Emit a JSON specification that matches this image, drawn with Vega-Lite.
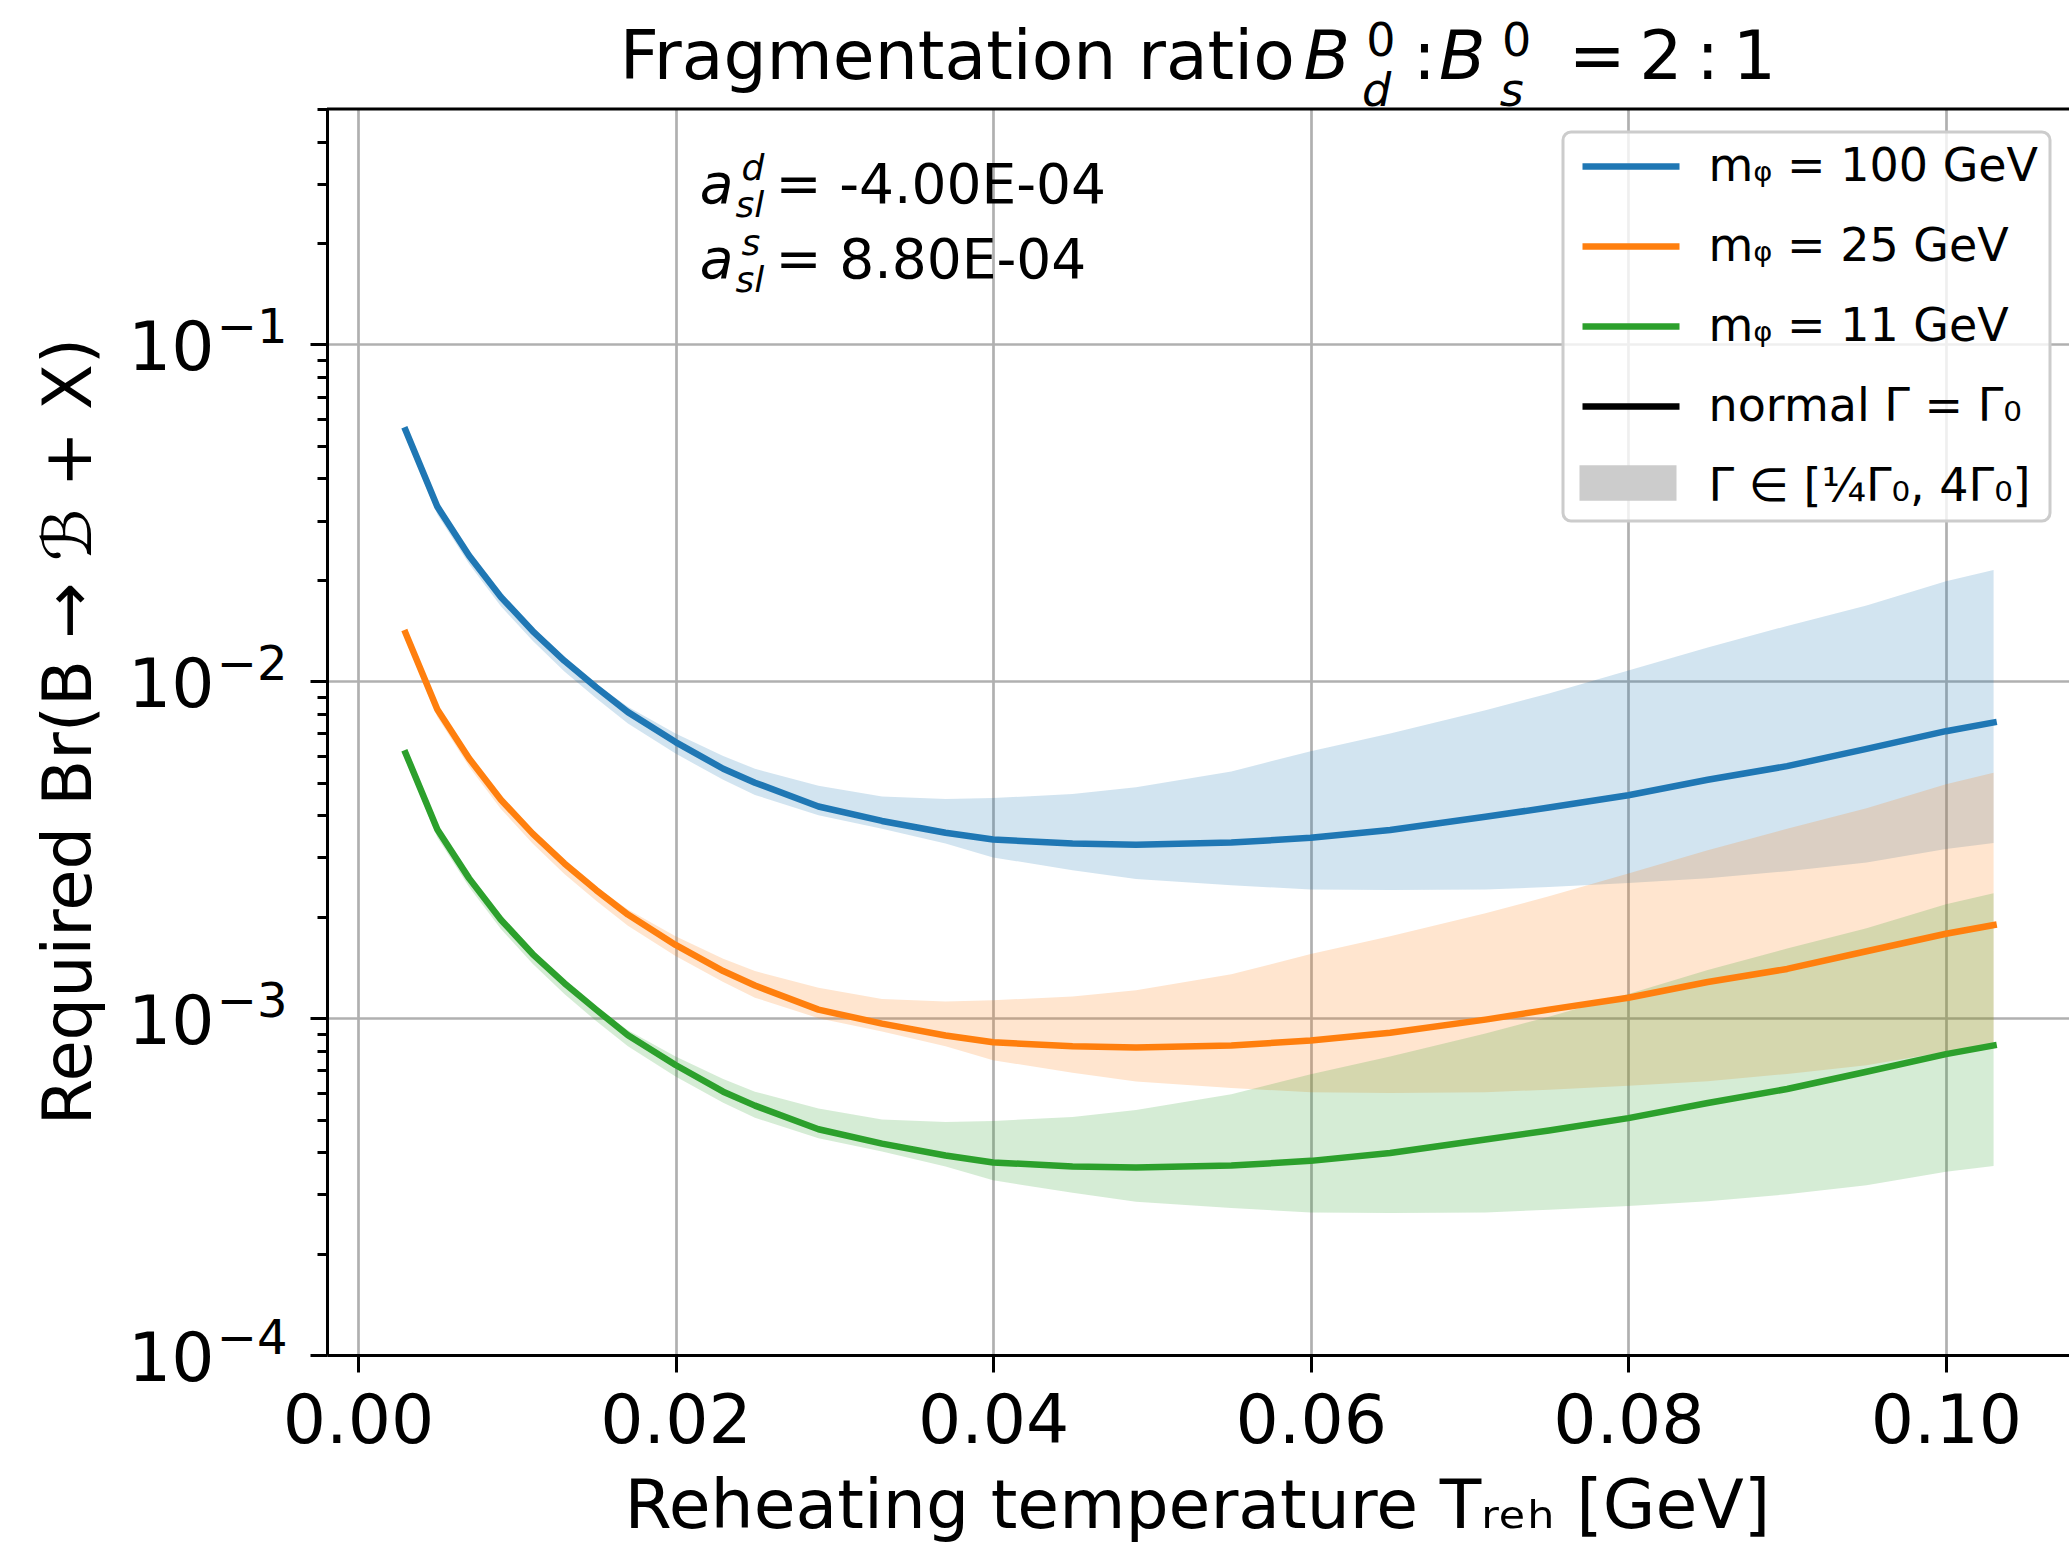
{
  "$schema": "https://vega.github.io/schema/vega-lite/v6.json",
  "autosize": {"type": "none"},
  "width": 1742,
  "height": 1246,
  "padding": {"left": 327, "top": 109, "right": 0, "bottom": 190},
  "background": "white",
  "config": {
    "view": {"stroke": null},
    "font": "DejaVu Sans",
    "text": {"font": "DejaVu Sans", "color": "black"},
    "legend": {"strokeWidth": 3}
  },
  "data": {"values": [
    {"T":0.003,"s":"m100","br":0.0556,"lo":0.0530,"hi":0.0556},
    {"T":0.005,"s":"m100","br":0.0330,"lo":0.0313,"hi":0.0331},
    {"T":0.007,"s":"m100","br":0.0236,"lo":0.0223,"hi":0.0237},
    {"T":0.009,"s":"m100","br":0.0178,"lo":0.0167,"hi":0.0179},
    {"T":0.011,"s":"m100","br":0.0141,"lo":0.0132,"hi":0.0142},
    {"T":0.013,"s":"m100","br":0.0115,"lo":0.0107,"hi":0.0117},
    {"T":0.015,"s":"m100","br":0.0096,"lo":0.0089,"hi":0.0098},
    {"T":0.017,"s":"m100","br":0.0081,"lo":0.0075,"hi":0.0084},
    {"T":0.020,"s":"m100","br":0.0066,"lo":0.0061,"hi":0.0070},
    {"T":0.023,"s":"m100","br":0.0055,"lo":0.0051,"hi":0.0060},
    {"T":0.025,"s":"m100","br":0.0050,"lo":0.0046,"hi":0.0055},
    {"T":0.029,"s":"m100","br":0.00425,"lo":0.0040,"hi":0.0049},
    {"T":0.033,"s":"m100","br":0.00385,"lo":0.00365,"hi":0.00455},
    {"T":0.037,"s":"m100","br":0.00355,"lo":0.0033,"hi":0.00447},
    {"T":0.040,"s":"m100","br":0.00339,"lo":0.0030,"hi":0.0045},
    {"T":0.045,"s":"m100","br":0.00330,"lo":0.00275,"hi":0.00463},
    {"T":0.049,"s":"m100","br":0.00327,"lo":0.00259,"hi":0.00485},
    {"T":0.055,"s":"m100","br":0.00332,"lo":0.00248,"hi":0.0054},
    {"T":0.060,"s":"m100","br":0.00343,"lo":0.00241,"hi":0.0062},
    {"T":0.065,"s":"m100","br":0.00362,"lo":0.00240,"hi":0.0070},
    {"T":0.071,"s":"m100","br":0.00396,"lo":0.00241,"hi":0.0082},
    {"T":0.075,"s":"m100","br":0.00422,"lo":0.00245,"hi":0.0092},
    {"T":0.080,"s":"m100","br":0.00459,"lo":0.00252,"hi":0.01077},
    {"T":0.085,"s":"m100","br":0.0051,"lo":0.0026,"hi":0.0126},
    {"T":0.090,"s":"m100","br":0.0056,"lo":0.00273,"hi":0.0146},
    {"T":0.095,"s":"m100","br":0.0063,"lo":0.0029,"hi":0.0168},
    {"T":0.100,"s":"m100","br":0.00711,"lo":0.00318,"hi":0.0198},
    {"T":0.103,"s":"m100","br":0.00755,"lo":0.00331,"hi":0.0214},
    {"T":0.003,"s":"m25","br":0.0139,"lo":0.01325,"hi":0.0139},
    {"T":0.005,"s":"m25","br":0.00825,"lo":0.00783,"hi":0.00828},
    {"T":0.007,"s":"m25","br":0.0059,"lo":0.00558,"hi":0.00593},
    {"T":0.009,"s":"m25","br":0.00445,"lo":0.00418,"hi":0.00448},
    {"T":0.011,"s":"m25","br":0.00353,"lo":0.0033,"hi":0.00355},
    {"T":0.013,"s":"m25","br":0.00288,"lo":0.00268,"hi":0.00293},
    {"T":0.015,"s":"m25","br":0.0024,"lo":0.00223,"hi":0.00245},
    {"T":0.017,"s":"m25","br":0.00203,"lo":0.00188,"hi":0.0021},
    {"T":0.020,"s":"m25","br":0.00165,"lo":0.00153,"hi":0.00175},
    {"T":0.023,"s":"m25","br":0.00138,"lo":0.00128,"hi":0.0015},
    {"T":0.025,"s":"m25","br":0.00125,"lo":0.00115,"hi":0.00138},
    {"T":0.029,"s":"m25","br":0.00106,"lo":0.0010,"hi":0.00123},
    {"T":0.033,"s":"m25","br":0.000963,"lo":0.000913,"hi":0.00114},
    {"T":0.037,"s":"m25","br":0.000888,"lo":0.000825,"hi":0.00112},
    {"T":0.040,"s":"m25","br":0.000848,"lo":0.00075,"hi":0.00113},
    {"T":0.045,"s":"m25","br":0.000825,"lo":0.000688,"hi":0.00116},
    {"T":0.049,"s":"m25","br":0.000818,"lo":0.000648,"hi":0.00121},
    {"T":0.055,"s":"m25","br":0.00083,"lo":0.00062,"hi":0.00135},
    {"T":0.060,"s":"m25","br":0.000858,"lo":0.000603,"hi":0.00155},
    {"T":0.065,"s":"m25","br":0.000905,"lo":0.0006,"hi":0.00175},
    {"T":0.071,"s":"m25","br":0.00099,"lo":0.000603,"hi":0.00205},
    {"T":0.075,"s":"m25","br":0.00106,"lo":0.000613,"hi":0.0023},
    {"T":0.080,"s":"m25","br":0.00115,"lo":0.00063,"hi":0.00269},
    {"T":0.085,"s":"m25","br":0.00128,"lo":0.00065,"hi":0.00315},
    {"T":0.090,"s":"m25","br":0.0014,"lo":0.000683,"hi":0.00365},
    {"T":0.095,"s":"m25","br":0.00158,"lo":0.000725,"hi":0.0042},
    {"T":0.100,"s":"m25","br":0.00178,"lo":0.000795,"hi":0.00495},
    {"T":0.103,"s":"m25","br":0.00189,"lo":0.000828,"hi":0.00535},
    {"T":0.003,"s":"m11","br":0.00612,"lo":0.00583,"hi":0.00612},
    {"T":0.005,"s":"m11","br":0.00363,"lo":0.00344,"hi":0.00364},
    {"T":0.007,"s":"m11","br":0.0026,"lo":0.00245,"hi":0.00261},
    {"T":0.009,"s":"m11","br":0.00196,"lo":0.00184,"hi":0.00197},
    {"T":0.011,"s":"m11","br":0.00155,"lo":0.00145,"hi":0.00156},
    {"T":0.013,"s":"m11","br":0.00127,"lo":0.00118,"hi":0.00129},
    {"T":0.015,"s":"m11","br":0.00106,"lo":0.00098,"hi":0.00108},
    {"T":0.017,"s":"m11","br":0.00089,"lo":0.000825,"hi":0.00092},
    {"T":0.020,"s":"m11","br":0.000726,"lo":0.000671,"hi":0.00077},
    {"T":0.023,"s":"m11","br":0.000605,"lo":0.000561,"hi":0.00066},
    {"T":0.025,"s":"m11","br":0.00055,"lo":0.000506,"hi":0.000605},
    {"T":0.029,"s":"m11","br":0.000468,"lo":0.00044,"hi":0.000539},
    {"T":0.033,"s":"m11","br":0.000424,"lo":0.000402,"hi":0.0005},
    {"T":0.037,"s":"m11","br":0.000391,"lo":0.000363,"hi":0.000492},
    {"T":0.040,"s":"m11","br":0.000373,"lo":0.00033,"hi":0.000495},
    {"T":0.045,"s":"m11","br":0.000363,"lo":0.000303,"hi":0.000509},
    {"T":0.049,"s":"m11","br":0.00036,"lo":0.000285,"hi":0.000534},
    {"T":0.055,"s":"m11","br":0.000365,"lo":0.000273,"hi":0.000594},
    {"T":0.060,"s":"m11","br":0.000377,"lo":0.000265,"hi":0.000682},
    {"T":0.065,"s":"m11","br":0.000398,"lo":0.000264,"hi":0.00077},
    {"T":0.071,"s":"m11","br":0.000436,"lo":0.000265,"hi":0.0009},
    {"T":0.075,"s":"m11","br":0.000464,"lo":0.00027,"hi":0.00101},
    {"T":0.080,"s":"m11","br":0.000505,"lo":0.000277,"hi":0.00118},
    {"T":0.085,"s":"m11","br":0.00056,"lo":0.000286,"hi":0.00139},
    {"T":0.090,"s":"m11","br":0.000616,"lo":0.0003,"hi":0.00161},
    {"T":0.095,"s":"m11","br":0.000693,"lo":0.000319,"hi":0.00185},
    {"T":0.100,"s":"m11","br":0.000782,"lo":0.00035,"hi":0.00218},
    {"T":0.103,"s":"m11","br":0.00083,"lo":0.000364,"hi":0.00235}
  ]},
  "resolve": {"axis": {"x": "independent", "y": "independent"}},
  "layer": [
    {
      "mark": {"type": "area", "interpolate": "linear", "fillOpacity": 0.2},
      "encoding": {
        "x": {"field": "T", "type": "quantitative",
          "scale": {"domain": [-0.00195, 0.10775], "nice": false, "zero": false},
          "axis": {
            "orient": "bottom",
            "values": [0, 0.02, 0.04, 0.06, 0.08, 0.1], "format": ".2f",
            "labelFont": "DejaVu Sans", "labelFontSize": 68, "labelColor": "black",
            "labelBaseline": "alphabetic", "labelPadding": 70, "labelFlush": false, "labelOverlap": false,
            "tickSize": 17, "tickWidth": 3, "tickColor": "black",
            "domainColor": "black", "domainWidth": 3,
            "grid": true, "gridColor": "#b0b0b0", "gridWidth": 2.7,
            "title": "Reheating temperature Tᵣₑₕ [GeV]", "titleFont": "DejaVu Sans", "titleFontSize": 68,
            "titleFontWeight": "normal", "titleColor": "black",
            "titleX": 870, "titleY": 172, "titleAlign": "center", "titleBaseline": "alphabetic"
          }},
        "y": {"field": "lo", "type": "quantitative",
          "scale": {"type": "log", "domain": [0.0001, 0.5], "nice": false, "zero": false},
          "axis": {
            "orient": "left",
            "values": [0.0001,0.0002,0.0003,0.0004,0.0005,0.0006,0.0007,0.0008,0.0009,0.001,0.002,0.003,0.004,0.005,0.006,0.007,0.008,0.009,0.01,0.02,0.03,0.04,0.05,0.06,0.07,0.08,0.09,0.1,0.2,0.3,0.4,0.5],
            "labelExpr": "abs(log(datum.value)/LN10 - round(log(datum.value)/LN10)) < 0.001 ? '10' : ''",
            "labelFont": "DejaVu Sans", "labelFontSize": 68, "labelColor": "black",
            "labelBaseline": "alphabetic", "labelOffset": 25, "labelPadding": 96, "labelFlush": false, "labelOverlap": false,
            "tickSize": {"condition": {"test": "abs(log(datum.value)/LN10 - round(log(datum.value)/LN10)) < 0.001", "value": 17}, "value": 10},
            "tickWidth": 3, "tickColor": "black",
            "domainColor": "black", "domainWidth": 3,
            "grid": true, "gridColor": "#b0b0b0", "gridWidth": 2.7,
            "gridOpacity": {"condition": {"test": "abs(log(datum.value)/LN10 - round(log(datum.value)/LN10)) < 0.001", "value": 1}, "value": 0},
            "title": "Required Br(B → ℬ + X)", "titleFont": "DejaVu Sans", "titleFontSize": 67,
            "titleFontWeight": "normal", "titleColor": "black",
            "titleX": -237, "titleY": 622, "titleAngle": 270, "titleAlign": "center", "titleBaseline": "alphabetic"
          }},
        "y2": {"field": "hi"},
        "fill": {"field": "s", "type": "nominal",
          "scale": {"domain": ["m100", "m25", "m11"], "range": ["#1f77b4", "#ff7f0e", "#2ca02c"]},
          "legend": null},
        "opacity": {"datum": "band", "type": "nominal",
          "scale": {"domain": ["band"], "range": [0.2]},
          "legend": {
            "title": null, "orient": "none", "legendX": 1281, "legendY": 354,
            "symbolType": "M-2.425,-0.89H2.425V0.89H-2.425Z", "symbolSize": 1600,
            "symbolFillColor": "#000000", "symbolStrokeColor": "transparent", "symbolStrokeWidth": 0,
            "labelExpr": "''", "labelFontSize": 1, "padding": 0, "strokeColor": "transparent"
          }}
      }
    },
    {
      "mark": {"type": "line", "strokeWidth": 6.5, "strokeCap": "square", "strokeJoin": "round", "interpolate": "linear"},
      "encoding": {
        "x": {"field": "T", "type": "quantitative", "axis": null},
        "y": {"field": "br", "type": "quantitative",
          "scale": {"type": "log", "domain": [0.0001, 0.5], "nice": false, "zero": false},
          "axis": {
            "orient": "left",
            "values": [0.0001, 0.001, 0.01, 0.1],
            "labelExpr": "'−' + format(-round(log(datum.value)/LN10), 'd')",
            "labelFont": "DejaVu Sans", "labelFontSize": 48, "labelColor": "black",
            "labelBaseline": "alphabetic", "labelOffset": -2, "labelPadding": 40,
            "labelFlush": false, "labelOverlap": false,
            "ticks": false, "tickSize": 0, "domain": false, "grid": false, "title": null
          }},
        "color": {"field": "s", "type": "nominal",
          "scale": {"domain": ["m100", "m25", "m11", "normal", "band"], "range": ["#1f77b4", "#ff7f0e", "#2ca02c", "#000000", "rgba(0,0,0,0)"]},
          "legend": {
            "title": null,
            "orient": "none", "legendX": 1236, "legendY": 23,
            "direction": "vertical",
            "symbolType": "M-2.425,0H2.425", "symbolSize": 1600, "symbolStrokeWidth": 6.5,
            "symbolOffset": 33.5,
            "labelFont": "DejaVu Sans", "labelFontSize": 46, "labelColor": "black", "labelLimit": 800,
            "labelOffset": 54, "rowPadding": 33, "padding": 11,
            "strokeColor": "#cccccc", "cornerRadius": 8,
            "fillColor": "rgba(255,255,255,0.8)",
            "labelExpr": "datum.value == 'm100' ? 'mᵩ = 100 GeV ' : datum.value == 'm25' ? 'mᵩ = 25 GeV' : datum.value == 'm11' ? 'mᵩ = 11 GeV' : datum.value == 'normal' ? 'normal Γ = Γ₀' : 'Γ ∈ [¼Γ₀, 4Γ₀]'"
          }}
      }
    },
    {
      "data": {"values": [{}]},
      "mark": {"type": "rule", "color": "black", "strokeWidth": 3},
      "encoding": {"y": {"datum": 0.5, "type": "quantitative", "axis": null}}
    },
    {"data": {"values": [{}]}, "mark": {"type": "text", "text": "Fragmentation ratio", "fontSize": 68, "align": "left", "baseline": "alphabetic"},
      "encoding": {"x": {"datum": 0.01648, "type": "quantitative", "axis": null}, "y": {"datum": 0.6139, "type": "quantitative", "axis": null}}},
    {"data": {"values": [{}]}, "mark": {"type": "text", "text": "B", "fontSize": 68, "fontStyle": "italic", "align": "left", "baseline": "alphabetic"},
      "encoding": {"x": {"datum": 0.05955, "type": "quantitative", "axis": null}, "y": {"datum": 0.6139, "type": "quantitative", "axis": null}}},
    {"data": {"values": [{}]}, "mark": {"type": "text", "text": "0", "fontSize": 46, "align": "left", "baseline": "alphabetic", "dy": -23},
      "encoding": {"x": {"datum": 0.06349, "type": "quantitative", "axis": null}, "y": {"datum": 0.6139, "type": "quantitative", "axis": null}}},
    {"data": {"values": [{}]}, "mark": {"type": "text", "text": "d", "fontSize": 46, "fontStyle": "italic", "align": "left", "baseline": "alphabetic", "dy": 27},
      "encoding": {"x": {"datum": 0.06323, "type": "quantitative", "axis": null}, "y": {"datum": 0.6139, "type": "quantitative", "axis": null}}},
    {"data": {"values": [{}]}, "mark": {"type": "text", "text": ":", "fontSize": 68, "align": "left", "baseline": "alphabetic"},
      "encoding": {"x": {"datum": 0.06644, "type": "quantitative", "axis": null}, "y": {"datum": 0.6139, "type": "quantitative", "axis": null}}},
    {"data": {"values": [{}]}, "mark": {"type": "text", "text": "B", "fontSize": 68, "fontStyle": "italic", "align": "left", "baseline": "alphabetic"},
      "encoding": {"x": {"datum": 0.06808, "type": "quantitative", "axis": null}, "y": {"datum": 0.6139, "type": "quantitative", "axis": null}}},
    {"data": {"values": [{}]}, "mark": {"type": "text", "text": "0", "fontSize": 46, "align": "left", "baseline": "alphabetic", "dy": -23},
      "encoding": {"x": {"datum": 0.07204, "type": "quantitative", "axis": null}, "y": {"datum": 0.6139, "type": "quantitative", "axis": null}}},
    {"data": {"values": [{}]}, "mark": {"type": "text", "text": "s", "fontSize": 46, "fontStyle": "italic", "align": "left", "baseline": "alphabetic", "dy": 27},
      "encoding": {"x": {"datum": 0.07191, "type": "quantitative", "axis": null}, "y": {"datum": 0.6139, "type": "quantitative", "axis": null}}},
    {"data": {"values": [{}]}, "mark": {"type": "text", "text": "=\u20092\u2009:\u20091", "fontSize": 68, "align": "left", "baseline": "alphabetic"},
      "encoding": {"x": {"datum": 0.07625, "type": "quantitative", "axis": null}, "y": {"datum": 0.6139, "type": "quantitative", "axis": null}}},
    {"data": {"values": [{}]}, "mark": {"type": "text", "text": "a", "fontSize": 55, "fontStyle": "italic", "align": "left", "baseline": "alphabetic"},
      "encoding": {"x": {"datum": 0.02152, "type": "quantitative", "axis": null}, "y": {"datum": 0.263, "type": "quantitative", "axis": null}}},
    {"data": {"values": [{}]}, "mark": {"type": "text", "text": "d", "fontSize": 36, "fontStyle": "italic", "align": "left", "baseline": "alphabetic", "dy": -23},
      "encoding": {"x": {"datum": 0.02416, "type": "quantitative", "axis": null}, "y": {"datum": 0.263, "type": "quantitative", "axis": null}}},
    {"data": {"values": [{}]}, "mark": {"type": "text", "text": "sl", "fontSize": 36, "fontStyle": "italic", "align": "left", "baseline": "alphabetic", "dy": 14},
      "encoding": {"x": {"datum": 0.02378, "type": "quantitative", "axis": null}, "y": {"datum": 0.263, "type": "quantitative", "axis": null}}},
    {"data": {"values": [{}]}, "mark": {"type": "text", "text": "= -4.00E-04", "fontSize": 55, "align": "left", "baseline": "alphabetic"},
      "encoding": {"x": {"datum": 0.02630, "type": "quantitative", "axis": null}, "y": {"datum": 0.263, "type": "quantitative", "axis": null}}},
    {"data": {"values": [{}]}, "mark": {"type": "text", "text": "a", "fontSize": 55, "fontStyle": "italic", "align": "left", "baseline": "alphabetic"},
      "encoding": {"x": {"datum": 0.02152, "type": "quantitative", "axis": null}, "y": {"datum": 0.1575, "type": "quantitative", "axis": null}}},
    {"data": {"values": [{}]}, "mark": {"type": "text", "text": "s", "fontSize": 36, "fontStyle": "italic", "align": "left", "baseline": "alphabetic", "dy": -23},
      "encoding": {"x": {"datum": 0.02416, "type": "quantitative", "axis": null}, "y": {"datum": 0.1575, "type": "quantitative", "axis": null}}},
    {"data": {"values": [{}]}, "mark": {"type": "text", "text": "sl", "fontSize": 36, "fontStyle": "italic", "align": "left", "baseline": "alphabetic", "dy": 14},
      "encoding": {"x": {"datum": 0.02378, "type": "quantitative", "axis": null}, "y": {"datum": 0.1575, "type": "quantitative", "axis": null}}},
    {"data": {"values": [{}]}, "mark": {"type": "text", "text": "= 8.80E-04", "fontSize": 55, "align": "left", "baseline": "alphabetic"},
      "encoding": {"x": {"datum": 0.02630, "type": "quantitative", "axis": null}, "y": {"datum": 0.1575, "type": "quantitative", "axis": null}}}
  ]
}
